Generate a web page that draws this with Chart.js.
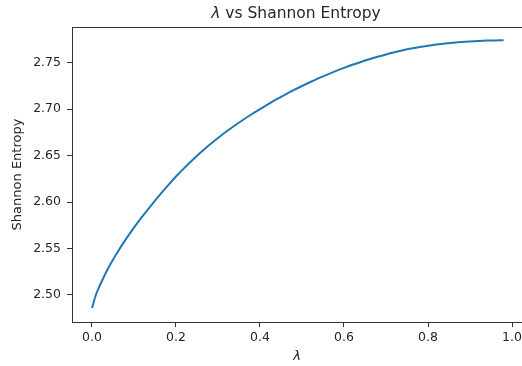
<!DOCTYPE html>
<html>
<head>
<meta charset="utf-8">
<script src="https://cdn.jsdelivr.net/npm/chart.js@4/dist/chart.umd.min.js"></script>
<style>
  html, body { margin: 0; padding: 0; background: #fff; overflow: hidden; }
</style>
</head>
<body>
<canvas id="myChart" width="522" height="366"></canvas>
<script>
// lambda values and the entropy measured at each one
const lambdas = [0.00, 0.01, 0.02, 0.04, 0.06, 0.08, 0.10, 0.12, 0.14, 0.16, 0.18,
  0.20, 0.22, 0.24, 0.26, 0.28, 0.30, 0.32, 0.34, 0.36, 0.38,
  0.40, 0.42, 0.44, 0.46, 0.48, 0.50, 0.52, 0.54, 0.56, 0.58,
  0.60, 0.62, 0.64, 0.66, 0.68, 0.70, 0.72, 0.74, 0.76, 0.78,
  0.80, 0.82, 0.84, 0.86, 0.88, 0.90, 0.92, 0.94, 0.96, 0.98];
const entropy = [2.486, 2.501, 2.5115, 2.530, 2.5455, 2.5595, 2.5725, 2.5845, 2.596, 2.607, 2.6175,
  2.6275, 2.6368, 2.6456, 2.6539, 2.6617, 2.669, 2.6759, 2.6824, 2.6886, 2.6945,
  2.7001, 2.7055, 2.7107, 2.7157, 2.7204, 2.7249, 2.7292, 2.7333, 2.7372, 2.7409,
  2.7444, 2.7477, 2.7508, 2.7537, 2.7564, 2.7589, 2.7612, 2.7633, 2.7652, 2.7669,
  2.7683, 2.7695, 2.7706, 2.7715, 2.7723, 2.7729, 2.7734, 2.7738, 2.774, 2.7741];

const xTicks = [0.0, 0.2, 0.4, 0.6, 0.8, 1.0];
const yTicks = [2.50, 2.55, 2.60, 2.65, 2.70, 2.75];

const FONT = '"DejaVu Sans", sans-serif';
const TEXT = "#262626";
const SPINE = "#333";

// top spine (runs off the right edge) + title with italic lambda
const framePlugin = {
  id: "frame",
  afterDraw(chart) {
    const { ctx, chartArea: a } = chart;
    ctx.save();
    // keep the right side open, the axes box continues past the canvas
    ctx.fillStyle = "#fff";
    ctx.fillRect(a.right - 3, a.top, chart.width - a.right + 3, a.bottom - a.top - 1);

    ctx.strokeStyle = SPINE;
    ctx.lineWidth = 1;
    ctx.beginPath();
    ctx.moveTo(Math.round(a.left), Math.round(a.top) + 0.5);
    ctx.lineTo(chart.width, Math.round(a.top) + 0.5);
    ctx.stroke();

    const parts = [["λ", "italic 15.5px " + FONT], [" vs Shannon Entropy", "15.5px " + FONT]];
    let total = 0;
    parts.forEach((p) => { ctx.font = p[1]; total += ctx.measureText(p[0]).width; });
    let x = 296 - total / 2;
    ctx.fillStyle = TEXT;
    ctx.textBaseline = "middle";
    ctx.textAlign = "left";
    parts.forEach((p) => {
      ctx.font = p[1];
      ctx.fillText(p[0], x, 14);
      x += ctx.measureText(p[0]).width;
    });
    ctx.restore();
  },
};

const points = lambdas.map((l, i) => ({ x: l, y: entropy[i] }));

const ctx = document.getElementById("myChart").getContext("2d");
const myChart = new Chart(ctx, {
  type: "line",
  data: {
    datasets: [
      {
        data: points,
        borderColor: "#1f77b4",
        borderWidth: 2,
        pointRadius: 0,
        cubicInterpolationMode: "monotone",
        fill: false,
      },
    ],
  },
  options: {
    responsive: false,
    animation: false,
    layout: { padding: { top: 27, left: 0, right: 0, bottom: 0 } },
    plugins: {
      legend: { display: false },
      tooltip: { enabled: false },
      title: { display: false },
    },
    scales: {
      x: {
        type: "linear",
        min: -0.0476,
        max: 1.0238,
        afterBuildTicks: (s) => { s.ticks = xTicks.map((v) => ({ value: v })); },
        afterFit: (s) => { s.height = 44; s.paddingRight = 0; s.paddingLeft = 0; },
        ticks: {
          autoSkip: false,
          maxRotation: 0,
          padding: 3,
          color: TEXT,
          font: { family: FONT, size: 12.5 },
          callback: (v) => Number(v).toFixed(1),
        },
        grid: { display: true, drawOnChartArea: false, tickLength: 5, color: SPINE },
        border: { display: true, color: SPINE },
        title: {
          display: true,
          text: "λ",
          color: TEXT,
          font: { family: FONT, size: 13, style: "italic" },
          padding: { top: 0, bottom: 2 },
        },
      },
      y: {
        min: 2.4709,
        max: 2.7884,
        afterBuildTicks: (s) => { s.ticks = yTicks.map((v) => ({ value: v })); },
        afterFit: (s) => { s.width = 72; },
        ticks: {
          padding: 6,
          color: TEXT,
          font: { family: FONT, size: 12.5 },
          callback: (v) => Number(v).toFixed(2),
        },
        grid: { display: true, drawOnChartArea: false, tickLength: 5, color: SPINE },
        border: { display: true, color: SPINE },
        title: {
          display: true,
          text: "Shannon Entropy",
          color: TEXT,
          font: { family: FONT, size: 13 },
          padding: { top: 10, bottom: 0 },
        },
      },
    },
  },
  plugins: [framePlugin],
});
</script>
</body>
</html>
